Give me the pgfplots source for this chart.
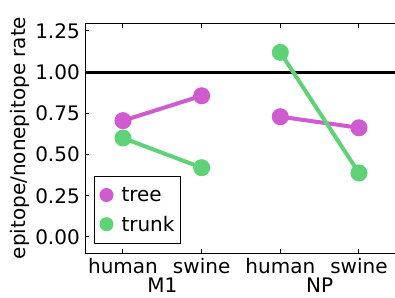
\documentclass[border=0pt]{standalone}
\usepackage{fontspec}
\setmainfont{DejaVu Sans}
\usepackage{pgfplots}
\pgfplotsset{compat=1.18}
\definecolor{tree}{RGB}{208,90,208}
\definecolor{trunk}{RGB}{95,210,120}
\begin{document}
\begin{tikzpicture}[x=1pt,y=1pt]
\useasboundingbox (0,0) rectangle (395,297);
\begin{axis}[
  at={(85pt,44pt)}, anchor=south west,
  scale only axis, width=310pt, height=229pt,
  xmin=-0.483, xmax=3.458, ymin=-0.097, ymax=1.291,
  axis x line*=box, axis y line*=left,
  axis line style={black, line width=1pt},
  tick align=inside,
  major tick length=4pt,
  every tick/.style={black, line width=1pt},
  xtick={0,1,2,3},
  xticklabels={human,swine,human,swine},
  ytick={0,0.25,0.5,0.75,1,1.25},
  /pgf/number format/assume math mode=true,
  yticklabel style={/pgf/number format/fixed, /pgf/number format/fixed zerofill, /pgf/number format/precision=2},
  yticklabel style={font=\fontsize{20}{24}\selectfont, anchor=east, inner sep=0pt, xshift=-5pt},
  xticklabel style={font=\fontsize{20}{24}\selectfont, anchor=base, inner sep=0pt, yshift=-20pt},
  legend style={font=\fontsize{20}{24}\selectfont, at={(axis description cs:0,0)}, anchor=south west, xshift=9pt, yshift=9pt, draw=black, line width=1pt, inner xsep=4pt, inner ysep=9pt, row sep=9pt},
  legend image code/.code={\path[draw=none,fill=none] (0pt,0pt) -- (21pt,0pt); \draw[#1] plot coordinates {(8pt,0pt)};},
  legend cell align=left,
  clip=false,
]
\addplot[black, line width=3pt, forget plot] coordinates {(-0.483,1) (3.458,1)};
\addplot[tree, line width=4pt, mark=*, mark size=6.5pt, forget plot] coordinates {(0,0.705) (1,0.856)};
\addplot[tree, line width=4pt, mark=*, mark size=6.5pt, forget plot] coordinates {(2,0.729) (3,0.662)};
\addplot[trunk, line width=4pt, mark=*, mark size=6.5pt, forget plot] coordinates {(0,0.600) (1,0.420)};
\addplot[trunk, line width=4pt, mark=*, mark size=6.5pt, forget plot] coordinates {(2,1.119) (3,0.388)};
\addlegendimage{only marks, mark=*, mark size=6.5pt, tree}
\addlegendentry{tree}
\addlegendimage{only marks, mark=*, mark size=6.5pt, trunk}
\addlegendentry{trunk\hspace{6pt}}
\node[font=\fontsize{20}{24}\selectfont, anchor=base, inner sep=0pt, yshift=-39pt] at (axis cs:0.5,-0.097) {M1};
\node[font=\fontsize{20}{24}\selectfont, anchor=base, inner sep=0pt, yshift=-39pt] at (axis cs:2.5,-0.097) {NP};
\end{axis}
\node[font=\fontsize{20}{24}\selectfont, rotate=90, anchor=center] at (20pt,159pt) {epitope/nonepitope rate};
\end{tikzpicture}
\end{document}
